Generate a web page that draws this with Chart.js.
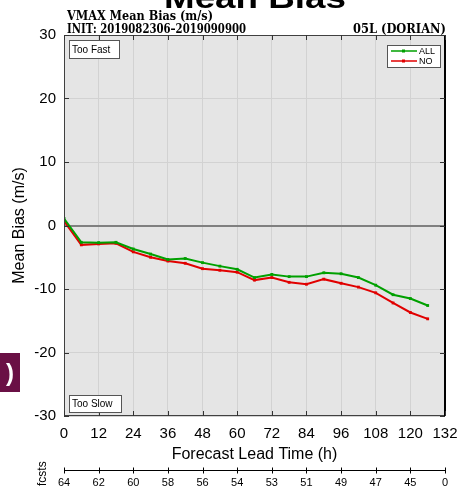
<!DOCTYPE html>
<html>
<head>
<meta charset="utf-8">
<script src="https://cdn.jsdelivr.net/npm/chart.js@4/dist/chart.umd.min.js"></script>
<style>
  html, body { margin: 0; padding: 0; background: #fff; }
  #wrap { width: 459px; height: 489px; position: relative; }
</style>
</head>
<body>
<div id="wrap"><canvas id="myChart" width="459" height="489"></canvas></div>
<script>
// forecast lead times (h)
var hours = [0, 6, 12, 18, 24, 30, 36, 42, 48, 54, 60, 66, 72, 78, 84, 90, 96, 102, 108, 114, 120, 126];
// mean bias (m/s) for each homogeneous set
var allBias = [1.1, -2.65, -2.7, -2.65, -3.7, -4.5, -5.35, -5.2, -5.85, -6.4, -6.9, -8.2, -7.7, -8.05, -8.05, -7.45, -7.6, -8.2, -9.4, -10.9, -11.5, -12.6];
var noBias = [0.7, -3.05, -2.9, -2.8, -4.15, -5.0, -5.6, -5.95, -6.8, -7.05, -7.35, -8.6, -8.2, -8.95, -9.25, -8.45, -9.1, -9.7, -10.6, -12.2, -13.7, -14.7];
// number of forecasts, one per x tick
var fcstHours = [0, 12, 24, 36, 48, 60, 72, 84, 96, 108, 120, 132];
var fcstCounts = ['64', '62', '60', '58', '56', '54', '53', '51', '49', '47', '45', '0'];

var green = 'rgb(0,160,0)';
var red = 'rgb(225,0,0)';
var sans = "'Liberation Sans', Arial, sans-serif";
var serif = "'DejaVu Serif', 'Liberation Serif', serif";

function toPoints(ys) {
  return hours.map(function(h, i) { return { x: h, y: ys[i] }; });
}

// draws text squeezed/stretched to a target width
function fitText(ctx, txt, x, y, w, weight, size, family, align) {
  ctx.font = weight + ' ' + size + 'px ' + family;
  var m = ctx.measureText(txt).width;
  ctx.save();
  ctx.translate(x, y);
  ctx.scale(w / m, 1);
  ctx.textAlign = align || 'left';
  ctx.fillText(txt, 0, 0);
  ctx.restore();
}

var decor = {
  id: 'decor',
  beforeDraw: function(chart) {
    var a = chart.chartArea, ctx = chart.ctx;
    ctx.save();
    ctx.fillStyle = '#e5e5e5';
    ctx.fillRect(a.left, a.top, a.right - a.left, a.bottom - a.top);
    ctx.restore();
  },
  afterDraw: function(chart) {
    var a = chart.chartArea, ctx = chart.ctx;
    var xs = chart.scales.x, ys = chart.scales.y;
    ctx.save();

    // frame
    ctx.strokeStyle = '#404040';
    ctx.lineWidth = 1;
    ctx.strokeRect(a.left + 0.5, a.top + 0.5, a.right - a.left - 1, a.bottom - a.top - 1);
    ctx.strokeStyle = '#000';
    ctx.lineWidth = 2;
    ctx.beginPath();
    ctx.moveTo(a.right, a.top); ctx.lineTo(a.right, a.bottom);
    ctx.stroke();

    // inward ticks on all sides
    ctx.strokeStyle = '#333';
    ctx.lineWidth = 1;
    ctx.beginPath();
    xs.ticks.forEach(function(t) {
      var px = Math.round(xs.getPixelForValue(t.value)) + 0.5;
      ctx.moveTo(px, a.bottom); ctx.lineTo(px, a.bottom - 5);
      ctx.moveTo(px, a.top); ctx.lineTo(px, a.top + 5);
    });
    ys.ticks.forEach(function(t) {
      var py = Math.round(ys.getPixelForValue(t.value)) + 0.5;
      ctx.moveTo(a.left, py); ctx.lineTo(a.left + 5, py);
      ctx.moveTo(a.right, py); ctx.lineTo(a.right - 5, py);
    });
    ctx.stroke();

    // titles above the plot
    ctx.fillStyle = '#000';
    ctx.textBaseline = 'alphabetic';
    fitText(ctx, 'Mean Bias', 164, 8, 182, 'bold', 30, sans);
    fitText(ctx, 'VMAX Mean Bias (m/s)', 67, 20, 146, 'bold', 12, serif);
    fitText(ctx, 'INIT: 2019082306\u20132019090900', 67, 33, 179, 'bold', 12, serif);
    fitText(ctx, '05L (DORIAN)', a.right + 1, 33, 93, 'bold', 12, serif, 'right');

    // axis titles
    ctx.font = '16px ' + sans;
    ctx.textAlign = 'center';
    ctx.fillText('Forecast Lead Time (h)', (a.left + a.right) / 2, 459);
    ctx.save();
    ctx.translate(24, (a.top + a.bottom) / 2);
    ctx.rotate(-Math.PI / 2);
    ctx.fillText('Mean Bias (m/s)', 0, 0);
    ctx.restore();

    // Too Fast / Too Slow boxes
    function noteBox(txt, x, y, w, h) {
      ctx.fillStyle = '#fff';
      ctx.fillRect(x, y, w, h);
      ctx.strokeStyle = '#555';
      ctx.lineWidth = 1;
      ctx.strokeRect(x + 0.5, y + 0.5, w, h);
      ctx.fillStyle = '#000';
      ctx.font = '10px ' + sans;
      ctx.textAlign = 'left';
      ctx.fillText(txt, x + 3, y + h - 5);
    }
    noteBox('Too Fast', a.left + 5, a.top + 5, 50, 18);
    noteBox('Too Slow', a.left + 5, a.bottom - 21, 52, 17);

    // legend
    var lx = a.right - 58, ly = 45;
    ctx.fillStyle = '#fff';
    ctx.fillRect(lx, ly, 53, 22);
    ctx.strokeStyle = '#555';
    ctx.strokeRect(lx + 0.5, ly + 0.5, 53, 22);
    [['ALL', green], ['NO', red]].forEach(function(e, i) {
      var yy = ly + 6 + i * 10;
      ctx.strokeStyle = e[1];
      ctx.lineWidth = 1.5;
      ctx.beginPath();
      ctx.moveTo(lx + 4, yy); ctx.lineTo(lx + 30, yy);
      ctx.stroke();
      ctx.fillStyle = e[1];
      ctx.fillRect(lx + 15, yy - 1.5, 3, 3);
      ctx.fillStyle = '#000';
      ctx.font = '9px ' + sans;
      ctx.textAlign = 'left';
      ctx.fillText(e[0], lx + 32, yy + 3);
    });

    // number of forecasts axis
    var fy = 470.5;
    ctx.strokeStyle = '#000';
    ctx.lineWidth = 1;
    ctx.beginPath();
    ctx.moveTo(a.left, fy); ctx.lineTo(a.right, fy);
    fcstHours.forEach(function(h) {
      var px = Math.round(xs.getPixelForValue(h)) + 0.5;
      ctx.moveTo(px, fy - 3); ctx.lineTo(px, fy + 3);
    });
    ctx.stroke();
    ctx.fillStyle = '#000';
    ctx.font = '11px ' + sans;
    ctx.textAlign = 'center';
    fcstHours.forEach(function(h, i) {
      ctx.fillText(fcstCounts[i], xs.getPixelForValue(h), 486);
    });
    ctx.save();
    ctx.translate(46, 496);
    ctx.rotate(-Math.PI / 2);
    ctx.textAlign = 'left';
    ctx.font = '12px ' + sans;
    ctx.fillText('# fcsts', 0, 0);
    ctx.restore();

    // cropped panel label at left
    ctx.fillStyle = '#6a1045';
    ctx.fillRect(0, 353, 20, 39);
    ctx.fillStyle = '#fff';
    ctx.font = 'bold 24px ' + sans;
    ctx.textAlign = 'right';
    ctx.fillText(')', 14, 381);

    ctx.restore();
  }
};

var ctx = document.getElementById('myChart').getContext('2d');
var chart = new Chart(ctx, {
  type: 'line',
  data: {
    datasets: [
      {
        label: 'ALL',
        data: toPoints(allBias),
        borderColor: green,
        backgroundColor: green,
        borderWidth: 2,
        pointStyle: 'rect',
        pointRadius: 2,
        pointBorderWidth: 0
      },
      {
        label: 'NO',
        data: toPoints(noBias),
        borderColor: red,
        backgroundColor: red,
        borderWidth: 2,
        pointStyle: 'rect',
        pointRadius: 2,
        pointBorderWidth: 0
      }
    ]
  },
  options: {
    responsive: false,
    animation: false,
    layout: { padding: { top: 35, right: 14, left: 0, bottom: 0 } },
    plugins: { legend: { display: false }, tooltip: { enabled: false } },
    scales: {
      x: {
        type: 'linear',
        min: 0,
        max: 132,
        afterFit: function(s) { s.height = 73; s.paddingLeft = 0; s.paddingRight = 0; },
        ticks: { stepSize: 12, padding: 9, color: '#000', font: { family: sans, size: 15 }, maxRotation: 0 },
        grid: { color: '#d2d2d2', drawTicks: false },
        border: { display: false }
      },
      y: {
        min: -30,
        max: 30,
        afterFit: function(s) { s.width = 64; s.paddingTop = 0; s.paddingBottom = 0; },
        ticks: { stepSize: 10, padding: 8, color: '#000', font: { family: sans, size: 15 } },
        grid: {
          drawTicks: false,
          color: function(c) { return c.tick && c.tick.value === 0 ? '#808080' : '#d2d2d2'; },
          lineWidth: function(c) { return c.tick && c.tick.value === 0 ? 2 : 1; }
        },
        border: { display: false }
      }
    }
  },
  plugins: [decor]
});
</script>
</body>
</html>
